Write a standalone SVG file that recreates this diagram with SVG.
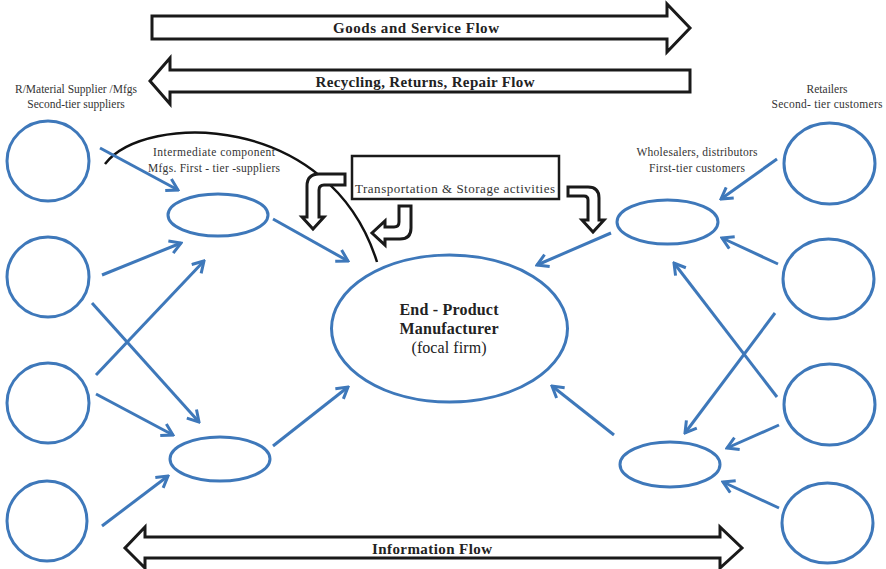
<svg xmlns="http://www.w3.org/2000/svg" width="886" height="569" viewBox="0 0 886 569">
<style>
.node{fill:none;stroke:#3e78ba;stroke-width:3}
.conn{stroke:#3e78ba;stroke-width:3;fill:none;marker-end:url(#ah)}
.blk{fill:#fff;stroke:#1a1a1a;stroke-width:3;stroke-linejoin:miter}
.lbl{font-family:"Liberation Serif","Times New Roman",serif;font-size:11.5px;fill:#333;text-anchor:middle}
.big{font-family:"Liberation Serif","Times New Roman",serif;font-size:15px;font-weight:bold;fill:#222;text-anchor:middle}
.ctr{font-family:"Liberation Serif","Times New Roman",serif;font-size:16px;fill:#222;text-anchor:middle}
</style>
<defs>
<marker id="ah" markerUnits="userSpaceOnUse" viewBox="0 0 16 16" markerWidth="16" markerHeight="16" refX="14" refY="8" orient="auto">
<path d="M3,1.5 L14,8 L3,14.5" fill="none" stroke="#3e78ba" stroke-width="3"/>
</marker>
</defs>
<rect width="886" height="569" fill="#fff"/>

<g id="goods-flow">
<path class="blk" d="M152,16 H667 V4 L690,28 L667,52 V39 H152 Z"/>
<text class="big" x="416" y="33" textLength="166">Goods and Service Flow</text>
</g>
<g id="recycling-flow">
<path class="blk" d="M690,70 H170 V58 L150,81 L170,104 V92 H690 Z"/>
<text class="big" x="425" y="87" textLength="219">Recycling, Returns, Repair Flow</text>
</g>
<g id="information-flow">
<path class="blk" d="M145,537 H720 V527 L742,548 L720,568 V558 H145 V568 L125,548 L145,527 Z"/>
<text class="big" x="432" y="554" textLength="120">Information Flow</text>
</g>

<g id="label-suppliers">
<text class="lbl" x="76" y="93">R/Material Supplier /Mfgs</text>
<text class="lbl" x="76" y="108">Second-tier suppliers</text>
</g>
<g id="label-intermediate">
<text class="lbl" x="214" y="156" textLength="122">Intermediate component</text>
<text class="lbl" x="214" y="172" textLength="132">Mfgs. First - tier -suppliers</text>
</g>
<g id="label-wholesalers">
<text class="lbl" x="697" y="156" textLength="121">Wholesalers, distributors</text>
<text class="lbl" x="697" y="172" textLength="96">First-tier customers</text>
</g>
<g id="label-retailers">
<text class="lbl" x="827" y="93">Retailers</text>
<text class="lbl" x="827" y="108" textLength="111">Second- tier customers</text>
</g>

<g id="s1"><ellipse class="node" cx="48" cy="161" rx="41" ry="40"/></g>
<g id="s2"><ellipse class="node" cx="48" cy="277" rx="41" ry="40"/></g>
<g id="s3"><ellipse class="node" cx="48" cy="403" rx="41" ry="40"/></g>
<g id="s4"><ellipse class="node" cx="47" cy="521" rx="40" ry="40"/></g>
<g id="i1"><ellipse class="node" cx="218" cy="215" rx="50" ry="21"/></g>
<g id="i2"><ellipse class="node" cx="220" cy="459" rx="50" ry="22"/></g>
<g id="focal">
<ellipse class="node" cx="449.5" cy="328.5" rx="118" ry="73.5"/>
<text class="big" x="449" y="315" style="font-size:16px" textLength="99">End - Product</text>
<text class="big" x="449" y="334" style="font-size:16px" textLength="99">Manufacturer</text>
<text class="ctr" x="449" y="353" textLength="75">(focal firm)</text>
</g>
<g id="w1"><ellipse class="node" cx="667.5" cy="222" rx="50.5" ry="22"/></g>
<g id="w2"><ellipse class="node" cx="670" cy="464.5" rx="50" ry="22.5"/></g>
<g id="r1"><ellipse class="node" cx="829.5" cy="163.5" rx="45.5" ry="40.5"/></g>
<g id="r2"><ellipse class="node" cx="828.5" cy="279" rx="45.5" ry="40"/></g>
<g id="r3"><ellipse class="node" cx="829.5" cy="404.5" rx="45.5" ry="40.5"/></g>
<g id="r4"><ellipse class="node" cx="827.5" cy="523" rx="45.5" ry="40"/></g>

<g id="transport">
<rect x="352" y="156" width="207" height="43" fill="#fff" stroke="#1a1a1a" stroke-width="2.5"/>
<text class="lbl" x="455" y="193" style="font-size:13px" textLength="200">Transportation &amp; Storage activities</text>
</g>

<g id="connectors">
<path d="M105,164 C145,112 330,112 377,262" fill="none" stroke="#111" stroke-width="2.5"/>
<path class="blk" d="M345,174 H319 Q307,174 307,186 V217 H302 L313,229 L324,217 H319 V190 Q319,185 324,185 H345 Z"/>
<path class="blk" d="M399,206 H411 V228 Q411,239 400,239 H385 V245 L372,233 L385,221 V227 H394 Q399,227 399,222 Z"/>
<path class="blk" d="M568,187 H588 Q599,187 599,198 V220 H604 L593,232 L582,220 H588 V200 Q588,196 584,196 H568 Z"/>

<line class="conn" x1="100" y1="148" x2="178" y2="190"/>
<line class="conn" x1="102" y1="275" x2="181" y2="243"/>
<line class="conn" x1="96" y1="375" x2="204" y2="261"/>
<line class="conn" x1="92" y1="303" x2="199" y2="422"/>
<line class="conn" x1="96" y1="394" x2="173" y2="435"/>
<line class="conn" x1="102" y1="526" x2="168" y2="476"/>
<line class="conn" x1="273" y1="219" x2="348" y2="261"/>
<line class="conn" x1="273" y1="446" x2="348" y2="387"/>

<line class="conn" x1="777" y1="159" x2="721" y2="199"/>
<line class="conn" x1="778" y1="264" x2="722" y2="238"/>
<line class="conn" x1="777" y1="397" x2="674" y2="263"/>
<line class="conn" x1="775" y1="313" x2="685" y2="433"/>
<line class="conn" x1="779" y1="425" x2="727" y2="448"/>
<line class="conn" x1="779" y1="508" x2="723" y2="482"/>
<line class="conn" x1="611" y1="233" x2="537" y2="265"/>
<line class="conn" x1="614" y1="435" x2="552" y2="386"/>
</g>
</svg>
